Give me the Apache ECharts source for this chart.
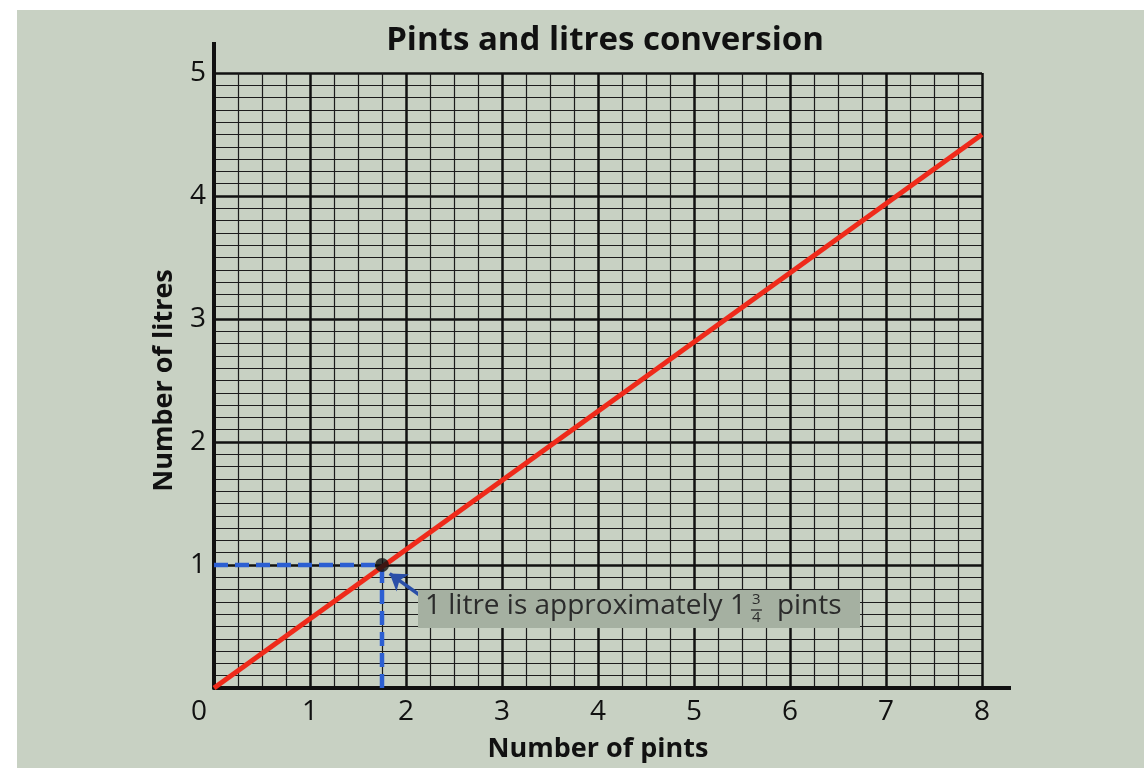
<!DOCTYPE html>
<html>
<head>
<meta charset="utf-8">
<script src="https://cdn.jsdelivr.net/npm/echarts@6/dist/echarts.min.js"></script>
<style>
  body { margin: 0; background: #fff; }
  #bg { position: absolute; left: 17px; top: 10px; right: 0; bottom: 0; background: #c8d1c3; }
  #chart { position: absolute; left: 0; top: 0; width: 1144px; height: 768px; }
</style>
</head>
<body>
<div id="bg"></div>
<div id="chart"></div>
<script>
// conversion line (pints -> litres)
const pints = [0, 8]
const litres = [0, 4.5]
// marked point: 1 litre ~ 1 3/4 pints
const markPint = 1.75
const markLitre = 1
// arrow from the note to the point
const arrowFrom = [2.17, 0.74]
const arrowTo = [1.83, 0.93]
const xTicks = ['0', '1', '2', '3', '4', '5', '6', '7', '8']
const yTicks = ['0', '1', '2', '3', '4', '5']

const font = '"Open Sans", "Noto Sans", sans-serif'
const chart = echarts.init(document.getElementById('chart'))

// measure text so the little stacked fraction can sit right after "1"
function textWidth (txt, size) {
  const c = document.createElement('canvas').getContext('2d')
  c.font = size + 'px "Open Sans"'
  return c.measureText(txt).width
}

const noteLeft = 418
const noteTop = 590
const noteSize = 28
const partA = '1 litre is approximately 1'
const wA = textWidth(partA, noteSize)
const fx = noteLeft + 8 + wA + 3

chart.setOption({
  animation: false,
  title: {
    text: 'Pints and litres conversion',
    left: 600,
    textAlign: 'center',
    top: 19,
    textStyle: { fontFamily: font, fontWeight: 'bold', fontSize: 33, color: '#111' }
  },
  grid: { left: 214, right: 162, top: 73, bottom: 80, outerBoundsMode: 'none', containLabel: false },
  xAxis: {
    type: 'value',
    min: 0,
    max: 8,
    interval: 1,
    name: 'Number of pints',
    nameLocation: 'middle',
    nameGap: 48,
    nameTextStyle: { fontFamily: font, fontWeight: 'bold', fontSize: 27, color: '#111' },
    axisLine: { show: true, lineStyle: { color: '#111', width: 4 }, symbol: ['none', 'rect'], symbolSize: [4, 58] },
    axisTick: { show: false },
    axisLabel: {
      fontFamily: font, fontSize: 28, color: '#111', margin: 10,
      formatter: v => v === 0 ? '{z|' + xTicks[0] + '}' : xTicks[v],
      rich: { z: { fontFamily: font, fontSize: 28, color: '#111', padding: [0, 30, 0, 0] } }
    },
    splitLine: { show: true, lineStyle: { color: '#111', width: 2.5 } },
    minorTick: { show: false, splitNumber: 4 },
    minorSplitLine: { show: true, lineStyle: { color: '#1c1c1c', width: 1.2 } }
  },
  yAxis: {
    type: 'value',
    min: 0,
    max: 5,
    interval: 1,
    name: 'Number of litres',
    nameLocation: 'middle',
    nameGap: 36,
    nameTextStyle: { fontFamily: font, fontWeight: 'bold', fontSize: 27, color: '#111' },
    axisLine: { show: true, lineStyle: { color: '#111', width: 4 }, symbol: ['none', 'rect'], symbolSize: [4, 62] },
    axisTick: { show: false },
    axisLabel: {
      fontFamily: font, fontSize: 28, color: '#111', margin: 8,
      formatter: v => v === 0 ? '' : yTicks[v]
    },
    splitLine: { show: true, lineStyle: { color: '#111', width: 2.5 } },
    minorTick: { show: false, splitNumber: 10 },
    minorSplitLine: { show: true, lineStyle: { color: '#1c1c1c', width: 1.2 } }
  },
  series: [
    {
      type: 'line',
      data: [[0, markLitre], [markPint, markLitre]],
      symbol: 'none',
      lineStyle: { color: '#2c5fd2', width: 4.5, type: [14, 7] },
      z: 3
    },
    {
      type: 'line',
      data: [[markPint, 0], [markPint, markLitre]],
      symbol: 'none',
      lineStyle: { color: '#2c5fd2', width: 4.5, type: [14, 7] },
      z: 3
    },
    {
      type: 'line',
      data: pints.map((p, i) => [p, litres[i]]),
      symbol: 'none',
      lineStyle: { color: '#ef2a1a', width: 5 },
      z: 4
    },
    {
      type: 'scatter',
      data: [[markPint, markLitre]],
      symbolSize: 14,
      itemStyle: { color: '#111' },
      z: 5
    },
    {
      type: 'lines',
      coordinateSystem: 'cartesian2d',
      data: [{ coords: [arrowFrom, arrowTo] }],
      symbol: ['none', 'arrow'],
      symbolSize: 16,
      lineStyle: { color: '#2a4fa8', width: 3.5, opacity: 1 },
      z: 6
    }
  ],
  graphic: [
    {
      type: 'rect',
      left: noteLeft,
      top: noteTop,
      shape: { width: 442, height: 38 },
      style: { fill: '#a5b0a1' },
      z: 10
    },
    {
      type: 'text',
      left: noteLeft + 7,
      top: noteTop + 2,
      style: { text: partA, font: noteSize + 'px ' + font, fill: '#2b2b2b' },
      z: 11
    },
    {
      type: 'text',
      left: fx + 2,
      top: noteTop + 2,
      style: { text: '3', font: '15px ' + font, fill: '#2b2b2b' },
      z: 11
    },
    {
      type: 'line',
      shape: { x1: fx + 1, y1: noteTop + 20, x2: fx + 12, y2: noteTop + 20 },
      style: { stroke: '#2b2b2b', lineWidth: 1.3 },
      z: 11
    },
    {
      type: 'text',
      left: fx + 2,
      top: noteTop + 20,
      style: { text: '4', font: '15px ' + font, fill: '#2b2b2b' },
      z: 11
    },
    {
      type: 'text',
      left: fx + 27,
      top: noteTop + 2,
      style: { text: 'pints', font: noteSize + 'px ' + font, fill: '#2b2b2b' },
      z: 11
    }
  ]
})
</script>
</body>
</html>
